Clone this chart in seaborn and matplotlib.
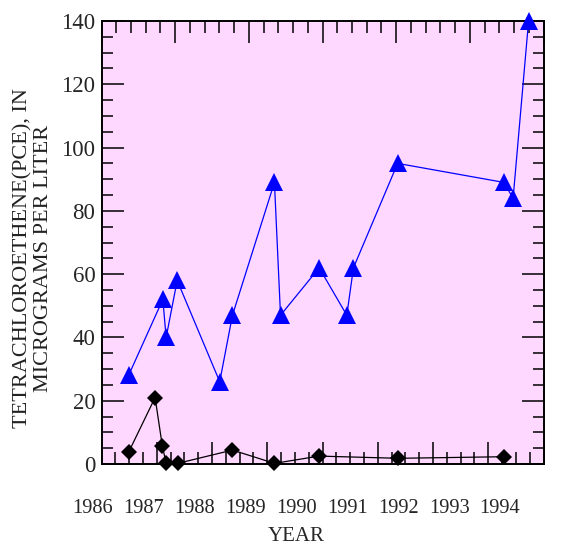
import numpy as np
import pandas as pd
import matplotlib
matplotlib.use("Agg")
import matplotlib.pyplot as plt
import seaborn as sns
from matplotlib.ticker import FixedLocator, MultipleLocator

# ---- data ----
pce_high_year = [1986.49, 1987.11, 1987.17, 1987.37, 1988.14, 1988.37, 1989.13,
                 1989.24, 1989.94, 1990.44, 1990.56, 1991.36, 1993.28, 1993.45, 1993.73]
pce_high_val = [28, 52, 40, 58, 26, 47, 89, 47, 62, 47, 62, 95, 89, 84, 140]

pce_low_year = [1986.49, 1986.97, 1987.10, 1987.17, 1987.38, 1988.37, 1989.13,
                1989.94, 1991.37, 1993.28]
pce_low_val = [3.7, 21.0, 5.8, 0.2, 0.2, 4.4, 0.2, 2.5, 1.8, 2.3]

year_labels = ["1986", "1987", "1988", "1989", "1990", "1991", "1992", "1993", "1994"]
y_ticks = [0, 20, 40, 60, 80, 100, 120, 140]

sns.set_theme(style="ticks")
plt.rcParams["font.family"] = ["Liberation Serif", "DejaVu Serif"]

DPI = 100
fig = plt.figure(figsize=(5.68, 5.46), dpi=DPI)
W, H = 568, 546
l, r, t, b = 101.5, 543.5, 21, 464
ax = fig.add_axes([l / W, (H - b) / H, (r - l) / W, (b - t) / H])
ax.set_facecolor("#FFD8FF")

df_hi = pd.DataFrame({"year": pce_high_year, "val": pce_high_val})
df_lo = pd.DataFrame({"year": pce_low_year, "val": pce_low_val})

sns.lineplot(data=df_hi, x="year", y="val", ax=ax, color="#0000FF", lw=0.9,
             marker="^", ms=12.5, mec="#0000FF", mfc="#0000FF", mew=0,
             sort=False, estimator=None, clip_on=False, zorder=3)
sns.lineplot(data=df_lo, x="year", y="val", ax=ax, color="black", lw=0.9,
             marker="D", ms=8.5, mec="black", mfc="black", mew=0,
             sort=False, estimator=None, clip_on=False, zorder=4)

ax.set_xlim(1986, 1994)
ax.set_ylim(0, 140)
ax.set_xlabel("")
ax.set_ylabel("")

fs_x = 14.7
fs_y = 16.5
# y axis ticks
ax.yaxis.set_major_locator(FixedLocator(y_ticks))
ax.yaxis.set_minor_locator(MultipleLocator(5))
ax.set_yticklabels([str(v) for v in y_ticks], fontsize=fs_y)
ax.tick_params(axis="y", which="both", direction="in", left=True, right=True,
               color="black", width=1.1)
ax.tick_params(axis="y", which="major", length=16, pad=4.5)
ax.tick_params(axis="y", which="minor", length=8)

# bottom x ticks (no labels; labels on separate axis)
ax.xaxis.set_major_locator(FixedLocator(np.arange(1986, 1995)))
ax.xaxis.set_minor_locator(MultipleLocator(0.25))
ax.tick_params(axis="x", which="both", direction="in", bottom=True, top=False,
               labelbottom=False, color="black", width=1.1)
ax.tick_params(axis="x", which="major", length=16)
ax.tick_params(axis="x", which="minor", length=8.5)

# top x ticks
sec = ax.secondary_xaxis("top")
sec.xaxis.set_major_locator(FixedLocator(np.linspace(1986, 1994, 7)))
sec.xaxis.set_minor_locator(FixedLocator(np.linspace(1986, 1994, 31)))
sec.tick_params(axis="x", which="both", direction="in", labeltop=False,
                color="black", width=1.1)
sec.tick_params(axis="x", which="major", length=16)
sec.tick_params(axis="x", which="minor", length=8.5)
sec.spines["top"].set_visible(False)

for s in ax.spines.values():
    s.set_color("black")
    s.set_linewidth(1.4)

# year labels axis (labels in the reference are spaced slightly differently)
ll, lr = 93, 500
lab = fig.add_axes([ll / W, (H - b) / H, (lr - ll) / W, (b - t) / H], frameon=False)
lab.set_ylim(0, 1)
lab.set_xlim(1986, 1994)
lab.set_xticks(np.arange(1986, 1995))
lab.set_xticklabels(year_labels, fontsize=fs_x)
lab.tick_params(axis="x", length=0, pad=25)
lab.set_yticks([])
lab.patch.set_alpha(0)
lab.set_xlabel("YEAR", fontsize=15)
lab.xaxis.set_label_coords(0.5, -(527 - b) / (b - t))

ax.set_ylabel("TETRACHLOROETHENE(PCE), IN\nMICROGRAMS PER LITER", fontsize=16,
              linespacing=1.1, color="#222222")
ax.yaxis.set_label_coords(-(l - 53) / (r - l), (b - 258.5) / (b - t))

fig.savefig("out.png", dpi=DPI)
